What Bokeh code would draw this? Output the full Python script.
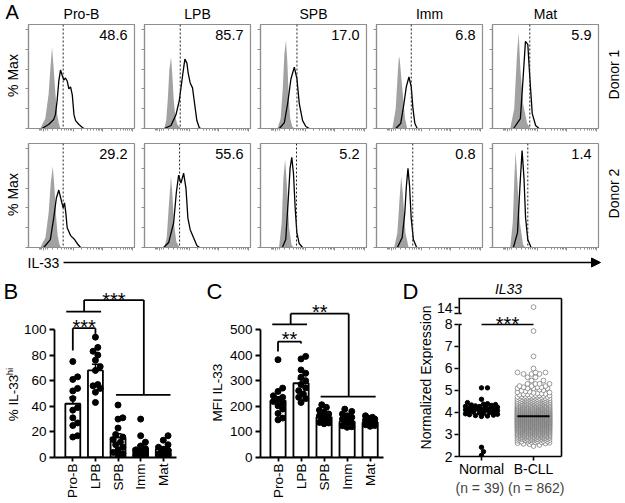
import math
from bokeh.plotting import figure
from bokeh.layouts import column, row
from bokeh.models import (Range1d, FixedTicker, Label, Arrow, NormalHead, Whisker,
                          TeeHead, ColumnDataSource, LinearAxis, Span)
from bokeh.core.properties import value
from bokeh.embed import file_html
from bokeh.resources import INLINE

FONT = "Liberation Sans"

# ---------------------------------------------------------------- data
POPULATIONS = ["Pro-B", "LPB", "SPB", "Imm", "Mat"]
DONORS = ["Donor 1", "Donor 2"]
PCT_DONOR1 = ["48.6", "85.7", "17.0", "6.8", "5.9"]
PCT_DONOR2 = ["29.2", "55.6", "5.2", "0.8", "1.4"]
GATE_DONOR1 = [327, 337, 344, 328, 352]
GATE_DONOR2 = [327, 331, 340, 342, 333]

# flow histograms: (IL-33 channel 0-1000, % of max)
D1_PROB_CTRL = [(111, 0), (159, 10), (190, 35), (206, 60), (222, 82), (238, 60), (254, 35), (270, 15), (286, 5), (302, 0)]
D1_PROB_IL33 = [(127, 0), (190, 4), (238, 9), (254, 14), (270, 28), (286, 48), (302, 59), (317, 54), (333, 49), (349, 51),
                (365, 48), (381, 40), (397, 42), (413, 34), (429, 14), (444, 8), (476, 4), (508, 1), (524, 0)]
D1_LPB_CTRL = [(187, 0), (205, 8), (220, 30), (235, 60), (250, 72), (262, 55), (275, 30), (290, 12), (310, 4), (344, 0)]
D1_LPB_IL33 = [(187, 0), (250, 3), (297, 14), (328, 28), (360, 54), (381, 70), (400, 66), (412, 56), (431, 46), (453, 41),
               (469, 28), (494, 8), (516, 1), (530, 0)]
D1_SPB_CTRL = [(160, 0), (190, 10), (210, 40), (225, 75), (240, 89), (252, 70), (265, 35), (280, 10), (300, 2), (320, 0)]
D1_SPB_IL33 = [(178, 0), (225, 6), (256, 25), (287, 50), (319, 62), (344, 50), (366, 25), (397, 8), (428, 2), (460, 0)]
D1_IMM_CTRL = [(150, 0), (181, 20), (203, 60), (212, 73), (219, 70), (244, 40), (269, 10), (290, 0)]
D1_IMM_IL33 = [(181, 0), (228, 5), (259, 25), (281, 42), (306, 52), (328, 42), (344, 20), (362, 5), (384, 0)]
D1_MAT_CTRL = [(167, 0), (205, 20), (231, 75), (247, 97), (263, 60), (288, 25), (327, 5), (359, 0)]
D1_MAT_IL33 = [(199, 0), (263, 10), (288, 50), (311, 88), (333, 85), (353, 50), (375, 15), (407, 3), (439, 0)]

D2_PROB_CTRL = [(111, 0), (160, 10), (190, 35), (210, 65), (229, 82), (245, 60), (260, 32), (275, 12), (290, 4), (305, 0)]
D2_PROB_IL33 = [(143, 0), (206, 8), (238, 30), (263, 50), (286, 58), (308, 48), (327, 40), (340, 45), (352, 35), (365, 20),
                (397, 12), (435, 8), (467, 3), (492, 0)]
D2_LPB_CTRL = [(187, 0), (210, 10), (228, 40), (250, 72), (262, 55), (278, 25), (300, 6), (330, 0)]
D2_LPB_IL33 = [(181, 0), (228, 5), (275, 25), (300, 55), (322, 73), (344, 65), (369, 75), (391, 60), (409, 30), (431, 18),
               (462, 10), (494, 2), (519, 0)]
D2_SPB_CTRL = [(175, 0), (200, 25), (216, 70), (232, 89), (248, 65), (270, 20), (292, 3), (311, 0)]
D2_SPB_IL33 = [(206, 0), (238, 8), (260, 45), (279, 80), (295, 91), (311, 75), (327, 40), (343, 15), (365, 4), (397, 0)]
D2_IMM_CTRL = [(167, 0), (197, 15), (218, 50), (233, 72), (248, 55), (273, 15), (303, 0)]
D2_IMM_IL33 = [(197, 0), (242, 10), (267, 35), (282, 62), (297, 80), (312, 62), (327, 30), (348, 8), (379, 0)]
D2_MAT_CTRL = [(167, 0), (191, 25), (206, 70), (218, 97), (233, 70), (258, 25), (288, 3), (309, 0)]
D2_MAT_IL33 = [(197, 0), (236, 15), (258, 60), (279, 98), (297, 70), (312, 30), (333, 8), (364, 0)]

# panel B: % IL-33 hi
B_MEAN = [42, 68, 15.5, 7, 6.5]
B_SEM = [5, 4.8, 3, 2.3, 1.5]
B_PROB = [75, 63, 61, 54, 52, 46, 39, 37, 31, 27, 25, 17, 16]
B_LPB = [94, 86, 83, 80, 76, 71, 68, 57, 56, 54, 51, 43]
B_SPB = [41, 31, 30, 23, 18, 16, 14, 12, 10, 8, 6, 4, 3, 2]
B_IMM = [30, 17, 12, 9, 7, 6, 5, 4, 3, 2, 1.5, 1, 0.5]
B_MAT = [17, 13.5, 10, 8, 6.5, 5.7, 4, 3, 2.6, 2, 1.5]

# panel C: MFI IL-33
C_MEAN = [222, 290, 158, 140, 137]
C_SEM = [15, 17, 6, 5, 3.5]
C_PROB = [382, 271, 258, 241, 235, 226, 219, 211, 202, 189, 172, 154, 147]
C_LPB = [395, 385, 342, 329, 313, 300, 285, 272, 261, 248, 235, 230, 215]
C_SPB = [206, 196, 185, 176, 170, 163, 157, 150, 144, 140, 137, 135, 132]
C_IMM = [189, 180, 170, 163, 157, 150, 144, 135, 133, 128, 124, 120, 118]
C_MAT = [163, 157, 154, 150, 146, 144, 137, 133, 130, 128, 125, 122]

# panel D: IL33 normalized expression
D_GROUPS = ["Normal", "B-CLL"]
D_N_LABELS = ["(n = 39)", "(n = 862)"]
D_NORMAL = [5.12, 5.12, 4.6, 4.45, 4.4, 4.38, 4.36, 4.34, 4.32, 4.3, 4.28, 4.27, 4.25, 4.24, 4.22, 4.2,
            4.19, 4.17, 4.15, 4.14, 4.12, 4.1, 4.08, 4.06, 4.04, 4.02, 4.0, 3.98, 3.96, 3.94, 3.92, 3.9,
            3.88, 3.86, 3.84, 3.82, 2.42, 2.22, 2.05]
D_CLL_BIN_CENTER = [2.5, 2.6, 2.7, 2.8, 2.9, 3.0, 3.1, 3.2, 3.3, 3.4, 3.5, 3.6, 3.7, 3.8, 3.9, 4.0,
                    4.1, 4.2, 4.3, 4.4, 4.5, 4.6, 4.7, 4.8, 4.9, 5.0]
D_CLL_BIN_COUNT = [2, 6, 12, 18, 25, 30, 36, 42, 48, 52, 56, 58, 62, 60, 56, 52,
                   46, 40, 34, 28, 22, 18, 14, 9, 6, 4]
D_CLL_HIGH = [5.1, 5.1, 5.1, 5.1, 5.15, 5.15, 5.15, 5.2, 5.2, 5.2, 5.3, 5.3, 5.3, 5.3,
              5.45, 5.45, 5.6, 5.6, 5.75, 5.75, 5.75, 5.82, 5.82, 5.82, 6.0, 6.55, 7.7, 14.3]
D_NORMAL_CENTER = 4.13
D_CLL_CENTER = 3.83

# ---------------------------------------------------------------- helpers
def text_fig(x0, y0, w, h, items, bt=0, bb=0, bl=0, br=0):
    """A figure holding text only. Its borders copy those of the plots it is aligned with,
    and its ranges cover exactly its frame, so that items are placed in page pixels."""
    fx0, fx1 = x0 + bl, x0 + w - br
    fy0, fy1 = y0 + bt, y0 + h - bb
    p = figure(width=w, height=h, x_range=Range1d(fx0, fx1), y_range=Range1d(-fy1, -fy0),
               x_axis_type=None, y_axis_type=None, title=None,
               min_border_left=bl, min_border_right=br, min_border_top=bt, min_border_bottom=bb,
               output_backend="svg", toolbar_location=None)
    p.outline_line_color = None
    p.background_fill_color = "white"
    p.border_fill_color = "white"
    for it in items:
        p.text(x=[it["x"]], y=[-it["y"]], text=[it["t"]], text_font=value(FONT),
               text_font_size=value(f"{it.get('size', 14)}px"), text_align=it.get("align", "center"),
               text_baseline="middle", angle=it.get("angle", 0.0),
               text_font_style=it.get("style", "normal"), text_color="black")
    return p


def data_label(p, x, y, text, size, align="center"):
    p.add_layout(Label(x=x, y=y, text=text, text_font=FONT, text_font_size=f"{size}px",
                       text_align=align, text_baseline="middle", text_color="black"))


def swarm_offsets(vals, ypx, xpx, diam, step, cap):
    n = len(vals)
    order = sorted(range(n), key=lambda i: vals[i])
    cands = [0.0]
    k = 1
    while k * step <= cap + 1e-9:
        cands += [k * step, -k * step]
        k += 1
    placed = []
    offs = [0.0] * n
    for i in order:
        y = vals[i] * ypx
        best, bestd = 0.0, -1.0
        for c in cands:
            md = float("inf")
            for (px, py) in reversed(placed):
                if y - py >= diam:
                    break
                d = math.hypot(px - c, py - y)
                if d < md:
                    md = d
            if md >= diam:
                best = c
                break
            if md > bestd:
                bestd, best = md, c
        placed.append((best, y))
        offs[i] = best / xpx
    return offs


def style_axis(ax, size, tick_out=4, standoff=2, width=1.8):
    ax.axis_line_width = width
    ax.axis_line_color = "black"
    ax.major_tick_line_width = width
    ax.major_tick_line_color = "black"
    ax.major_tick_in = 0
    ax.major_tick_out = tick_out
    ax.minor_tick_line_color = None
    ax.major_label_text_font = FONT
    ax.major_label_text_font_size = f"{size}px"
    ax.major_label_text_color = "black"
    ax.major_label_standoff = standoff


def blank_labels(ax, ticks):
    ax.major_label_overrides = {t: "" for t in ticks}
    ax.major_label_text_font_size = "1px"
    ax.major_label_standoff = 0


def base_fig(width, height, xr, yr, bl, br, bt, bb):
    p = figure(width=width, height=height, x_range=xr, y_range=yr, title=None,
               output_backend="svg", toolbar_location=None,
               min_border_left=bl, min_border_right=br, min_border_top=bt, min_border_bottom=bb)
    p.xgrid.visible = False
    p.ygrid.visible = False
    p.background_fill_color = "white"
    p.border_fill_color = "white"
    return p

# ---------------------------------------------------------------- panel A
FRAME_GRAY = "#8e8e8e"
FILL_GRAY = "#a2a2a2"
HIST_MAJOR = [140, 420, 700, 980]
HIST_MINOR = [100, 115, 125, 160, 175] + [a + (b - a) * math.log10(k)
                                          for a, b in zip(HIST_MAJOR[:-1], HIST_MAJOR[1:])
                                          for k in range(2, 10)]
HIST_YTICKS = [0, 20, 40, 60, 80, 100]

HIST_D1 = [(D1_PROB_CTRL, D1_PROB_IL33), (D1_LPB_CTRL, D1_LPB_IL33), (D1_SPB_CTRL, D1_SPB_IL33),
           (D1_IMM_CTRL, D1_IMM_IL33), (D1_MAT_CTRL, D1_MAT_IL33)]
HIST_D2 = [(D2_PROB_CTRL, D2_PROB_IL33), (D2_LPB_CTRL, D2_LPB_IL33), (D2_SPB_CTRL, D2_SPB_IL33),
           (D2_IMM_CTRL, D2_IMM_IL33), (D2_MAT_CTRL, D2_MAT_IL33)]

FRAME_LEFT = [28, 144, 260, 376, 492]
FRAME_W = 106
WIDTHS = [117, 116, 116, 116, 116]
BL = [6, 5, 5, 5, 5]
BR = [5, 5, 5, 5, 5]
TOP_H = 23


def hist_row(curves, pcts, gates, row_idx):
    if row_idx == 0:
        height, bt, bb, y0 = 112, 1, 7, TOP_H
        ymid = 75
    else:
        height, bt, bb, y0 = 117, 8, 5, 135
        ymid = 194
    figs = [text_fig(0, y0, 22, height, [dict(x=12, y=ymid, t="% Max", size=14, angle=math.pi / 2)],
                     bt=bt, bb=bb)]
    for i in range(5):
        p = base_fig(WIDTHS[i], height, Range1d(0, 1000), Range1d(0, 105), BL[i], BR[i], bt, bb)
        p.outline_line_color = FRAME_GRAY
        p.outline_line_width = 1.2
        for ax in p.axis:
            ax.axis_line_color = FRAME_GRAY
            ax.axis_line_width = 1.2
            ax.major_tick_in = 0
            ax.major_tick_out = 3
            ax.major_tick_line_color = FRAME_GRAY
            ax.minor_tick_line_color = FRAME_GRAY
            ax.minor_tick_in = 0
            ax.minor_tick_out = 2
        p.yaxis.ticker = FixedTicker(ticks=HIST_YTICKS, minor_ticks=[])
        p.xaxis.ticker = FixedTicker(ticks=HIST_MAJOR, minor_ticks=HIST_MINOR)
        blank_labels(p.yaxis[0], HIST_YTICKS)
        blank_labels(p.xaxis[0], HIST_MAJOR)
        ctrl, il33 = curves[i]
        p.varea(x=[c[0] for c in ctrl], y1=0, y2=[c[1] for c in ctrl], fill_color=FILL_GRAY)
        p.line(x=[c[0] for c in il33], y=[c[1] for c in il33], line_color="black", line_width=1.3)
        p.add_layout(Span(location=gates[i], dimension="height", line_color="#222222",
                          line_width=1, line_dash="2 2"))
        data_label(p, 934, 94.5, pcts[i], 14.5, align="right")
        figs.append(p)
    figs.append(text_fig(603, y0, 22, height,
                         [dict(x=613, y=ymid - 1, t=DONORS[row_idx], size=14, angle=math.pi / 2)],
                         bt=bt, bb=bb))
    return row(*figs)


top_strip = text_fig(0, 0, 625, TOP_H,
                     [dict(x=5, y=11.6, t="A", size=20, align="left")] +
                     [dict(x=FRAME_LEFT[i] + FRAME_W / 2, y=13, t=POPULATIONS[i], size=14)
                      for i in range(5)])
row1 = hist_row(HIST_D1, PCT_DONOR1, GATE_DONOR1, 0)
row2 = hist_row(HIST_D2, PCT_DONOR2, GATE_DONOR2, 1)

# IL-33 axis strip
strip = text_fig(0, 252, 625, 20, [dict(x=27, y=262, t="IL-33", size=14, align="left")])
strip.add_layout(Arrow(x_start=63, y_start=-262, x_end=600, y_end=-262, line_width=1.5,
                       line_color="black",
                       end=NormalHead(size=9, fill_color="black", line_color="black")))

# ---------------------------------------------------------------- panels B and C
ROW3_Y = 272
ROW3_H = 231
ROW3_BT = 9
ROW3_BB = 46


def bar_panel(width, bl, br, xr, yr, means, sems, groups, yticks, ybound, xpx, ypx):
    p = base_fig(width, ROW3_H, xr, yr, bl, br, ROW3_BT, ROW3_BB)
    p.outline_line_color = None
    idx = list(range(len(means)))
    p.vbar(x=idx, top=means, width=0.66, bottom=0, fill_color="white", line_color="black",
           line_width=1.8)
    src = ColumnDataSource(dict(x=idx, upper=[m + s for m, s in zip(means, sems)],
                                lower=[m - s for m, s in zip(means, sems)]))
    p.add_layout(Whisker(source=src, base="x", upper="upper", lower="lower", line_width=1.5,
                         upper_head=TeeHead(size=7, line_width=1.5),
                         lower_head=TeeHead(size=7, line_width=1.5)))
    for gi, vals in enumerate(groups):
        offs = swarm_offsets(vals, ypx, xpx, 5.6, 2.4, 6.5)
        p.scatter(x=[gi + o for o in offs], y=vals, size=6, fill_color="black", line_color="black")
    style_axis(p.yaxis[0], 13.5, tick_out=5, standoff=3)
    p.yaxis.ticker = FixedTicker(ticks=yticks, minor_ticks=[])
    p.yaxis.bounds = ybound
    style_axis(p.xaxis[0], 13.5, tick_out=4, standoff=2)
    p.xaxis.ticker = FixedTicker(ticks=idx, minor_ticks=[])
    p.xaxis.major_label_overrides = {i: POPULATIONS[i] for i in idx}
    p.xaxis.major_label_orientation = math.pi / 2
    return p


def brackets(p, segs, width=1.8):
    p.segment(x0=[s[0] for s in segs], y0=[s[1] for s in segs], x1=[s[2] for s in segs],
              y1=[s[3] for s in segs], line_color="black", line_width=width)


labB = text_fig(0, ROW3_Y, 20, ROW3_H,
                [dict(x=3, y=291, t="B", size=22, align="left"),
                 dict(x=13, y=397.5, t="% IL-33", size=13.5, angle=math.pi / 2),
                 dict(x=8.5, y=371, t="hi", size=9.5, angle=math.pi / 2)],
                bt=ROW3_BT, bb=ROW3_BB)
pB = bar_panel(180, 33, 24, Range1d(-0.81, 4.585), Range1d(0, 137.5), B_MEAN, B_SEM,
               [B_PROB, B_LPB, B_SPB, B_IMM, B_MAT], [0, 20, 40, 60, 80, 100], (0, 100), 22.8, 1.28)
brackets(pB, [(1.91, 49, 4.32, 49), (3.14, 49, 3.14, 123), (0.5, 123, 3.14, 123),
              (0.5, 123, 0.5, 114), (-0.29, 114, 1.25, 114),
              (0, 83.6, 0, 101), (0, 101, 1, 101), (1, 101, 1, 96)])
data_label(pB, 0.5, 102.3, "***", 20)
data_label(pB, 1.82, 122.9, "***", 20)

labC = text_fig(200, ROW3_Y, 26, ROW3_H,
                [dict(x=206, y=291, t="C", size=22, align="left"),
                 dict(x=217, y=392, t="MFI IL-33", size=13.5, angle=math.pi / 2)],
                bt=ROW3_BT, bb=ROW3_BB)
pC = bar_panel(174, 30, 17, Range1d(-0.76, 4.58), Range1d(0, 687.5), C_MEAN, C_SEM,
               [C_PROB, C_LPB, C_SPB, C_IMM, C_MAT], [0, 100, 200, 300, 400, 500], (0, 500), 23.8, 0.256)
brackets(pC, [(1.85, 238, 4.24, 238), (3.07, 238, 3.07, 562), (0.55, 562, 3.07, 562),
              (0.55, 562, 0.55, 520), (-0.25, 520, 1.26, 520),
              (0, 414, 0, 453), (0, 453, 1, 453), (1, 453, 1, 445)])
data_label(pC, 0.5, 462, "**", 20)
data_label(pC, 1.81, 569, "**", 20)

# ---------------------------------------------------------------- panel D
def brk(v):
    return v if v <= 8 else 8.5 + (v - 12) * 0.125


D_XPX = 52.0
D_YPX = 22.0
D_X0 = -0.442
D_X1 = 1.538
labD = text_fig(400, ROW3_Y, 33, ROW3_H,
                [dict(x=402, y=291, t="D", size=22, align="left"),
                 dict(x=425, y=377, t="Normalized Expression", size=14, angle=math.pi / 2)],
                bt=ROW3_BT, bb=ROW3_BB)
titleD = text_fig(433, ROW3_Y, 192, 24, [dict(x=508, y=288, t="IL33", size=14, style="italic")],
                  bl=25, br=64)
pD = base_fig(192, 207, Range1d(D_X0, D_X1), Range1d(2.0, 9.18), 25, 64, 2, 47)
pD.outline_line_color = None
cll_vals = []
for c, n in zip(D_CLL_BIN_CENTER, D_CLL_BIN_COUNT):
    cll_vals += [c - 0.05 + (k + 0.5) * 0.1 / n for k in range(n)]
cll_vals += D_CLL_HIGH
cll_y = [brk(v) for v in cll_vals]
norm_y = [brk(v) for v in D_NORMAL]
off_n = swarm_offsets(norm_y, D_YPX, D_XPX, 4.2, 2.0, 16)
off_c = swarm_offsets(cll_y, D_YPX, D_XPX, 4.4, 2.0, 17)
pD.scatter(x=off_n, y=norm_y, size=4.4, fill_color="black", line_color="black")
pD.scatter(x=[1 + o for o in off_c], y=cll_y, size=4.8, fill_color="white", line_color="#707070",
           line_width=0.7)
pD.segment(x0=[-0.31, 0.69], y0=[D_NORMAL_CENTER, D_CLL_CENTER], x1=[0.31, 1.31],
           y1=[D_NORMAL_CENTER, D_CLL_CENTER], line_color="black", line_width=2.2)
style_axis(pD.yaxis[0], 14, tick_out=4, standoff=2, width=1.6)
pD.yaxis.axis_line_color = None
pD.yaxis.ticker = FixedTicker(ticks=[2, 3, 4, 5, 6, 7, 8, 8.5, 8.75], minor_ticks=[])
pD.yaxis.major_label_overrides = {8.5: "", 8.75: "14"}
style_axis(pD.xaxis[0], 14, tick_out=4, standoff=0, width=1.6)
pD.xaxis.ticker = FixedTicker(ticks=[0, 1], minor_ticks=[])
pD.xaxis.major_label_overrides = {0: D_GROUPS[0], 1: D_GROUPS[1]}
pD.xaxis.axis_label = " ".join(D_N_LABELS)
pD.xaxis.axis_label_text_font = FONT
pD.xaxis.axis_label_text_font_size = "14px"
pD.xaxis.axis_label_text_font_style = "normal"
pD.xaxis.axis_label_standoff = 0
for place in ("above", "right"):
    ax = LinearAxis(ticker=FixedTicker(ticks=[], minor_ticks=[]))
    ax.axis_line_width = 1.6
    ax.axis_line_color = "black"
    ax.major_tick_line_color = None
    ax.minor_tick_line_color = None
    ax.major_tick_out = 0
    ax.minor_tick_out = 0
    ax.major_label_text_font_size = "1px"
    ax.major_label_standoff = 0
    pD.add_layout(ax, place)
# broken left axis line
pD.segment(x0=[D_X0, D_X0], y0=[2.0, 8.5], x1=[D_X0, D_X0], y1=[8.0, 9.18],
           line_color="black", line_width=3.2)
pD.segment(x0=[D_X0, D_X0], y0=[8.0, 8.5], x1=[D_X0 + 0.06, D_X0 + 0.06], y1=[8.0, 8.5],
           line_color="black", line_width=1.6)
brackets(pD, [(0, 8.0, 1, 8.0)], width=1.6)
data_label(pD, 0.5, 8.04, "***", 20)

row3 = row(labB, pB, labC, pC, labD, column(titleD, pD))

layout = column(top_strip, row1, row2, strip, row3)
open("out.html", "w").write(file_html(layout, INLINE))
